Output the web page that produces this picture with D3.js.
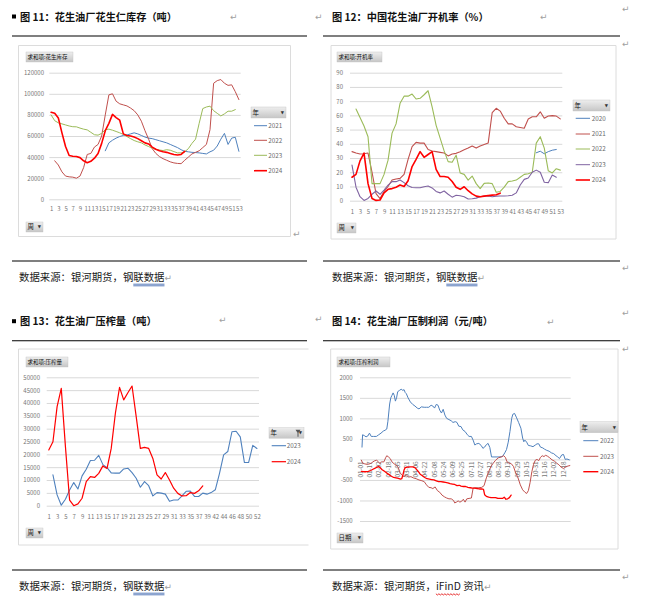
<!DOCTYPE html>
<html><head><meta charset="utf-8">
<script src="https://cdn.jsdelivr.net/npm/d3@7"></script>
<style>
body{margin:0;background:#fff;}
svg{display:block;font-family:"Noto Sans CJK SC","Noto Sans",sans-serif;}
</style></head><body>
<svg id="chart" width="656" height="608"></svg>
<script>
// ---------------- DATA ----------------
// Fig 11: peanut kernel inventory (t), by week
const invWeeks = d3.range(1, 54);
const invWeekLabels = invWeeks.filter(w => w % 2 === 1);
const invYears = ["2021", "2022", "2023", "2024"];
const inv2021 = [null,null,null,null,null,null,null,null,null,null,null,null,null,null,null,46000,53500,56000,58000,59500,60500,61000,62000,63000,62000,60500,59000,58000,57500,56500,55500,54500,53500,52000,50500,49000,47000,45500,45000,44500,44300,44000,43500,43000,45000,46500,50500,57000,62500,52000,58000,58800,45500];
const inv2022 = [null,36500,32500,26000,22000,21300,21000,20000,22000,30000,42500,43500,49500,52000,60000,80000,99000,100000,93000,90500,89500,88500,86500,84000,80000,74000,65000,57000,48000,43500,40500,38500,37000,35500,34500,34000,33800,37000,40000,43000,44500,46000,49000,52000,66000,110000,112500,113500,110000,108000,108500,102000,94500];
const inv2023 = [80000,74500,72500,71500,70500,69500,68800,68700,67500,66500,65800,63500,61200,60800,62500,66000,66500,65500,64300,63000,61500,59500,57500,55700,54500,53500,51500,50000,48500,47300,46700,46200,47000,46500,45200,44000,44000,45000,48000,53000,57000,72000,86000,87500,88300,84000,81500,79000,81000,83500,83500,85000,null];
const inv2024 = [82500,81500,77000,63000,50000,41500,40800,40500,39500,36500,34700,36000,39000,43500,53000,65000,72000,80500,77500,75000,62000,60500,60000,59000,57500,55500,53500,52500,49500,47500,46000,45000,44500,43500,42500,42000,42500,45500,null,null,null,null,null,null,null,null,null,null,null,null,null,null,null];
const invTicks = [0, 20000, 40000, 60000, 80000, 100000, 120000];

// Fig 12: operating rate (%), by week
const rateWeeks = d3.range(1, 54);
const rateWeekLabels = rateWeeks.filter(w => w % 2 === 1);
const rateYears = ["2020", "2021", "2022", "2023", "2024"];
const rate2020 = [null,null,null,null,null,null,null,null,null,null,null,null,null,null,null,null,null,null,null,null,null,null,null,null,null,null,null,null,null,null,null,null,null,null,null,null,null,null,null,null,null,null,null,null,null,null,33.7,34.8,33,34.5,35.5,36,null];
const rate2021 = [34.5,33.5,32.8,33,33.5,20,5,1.5,6.5,10,14.5,15.2,15.7,18.5,29,38,41,40.5,40.5,36,35,34.5,34,33.5,31.5,32.8,33.3,34.5,35.8,37,38.5,37,38.5,39.5,40.5,62,65,63,58,54,54,52,51.5,51,57.5,59,59,62.5,58,59.5,59.8,59.5,57.5];
const rate2022 = [null,64.5,58.5,52.5,45,12,12,12,18.5,28.5,47.5,54,68.5,73.5,73.5,75,71.5,72,74.5,77.3,66,53,44,35,27.5,27,32,19.5,18.5,14.5,17.3,12,8.5,12.2,12.5,12,6,6.5,9.5,13.4,13.8,14.5,16.5,18.5,19,20,40.5,45,37,21,19.5,22.5,21.5];
const rate2023 = [25,9.5,2.8,0.2,1.6,4.5,6.8,4.5,7.5,11,13.4,13.4,14.5,12.7,10.5,9.3,9.1,9.1,9.8,10.3,9,6.5,5.5,6.8,4.5,2.5,3.8,3.5,2.8,1.2,1.4,1.8,2.8,3.2,3.3,2.8,3.2,3.3,3.3,3.5,3.8,5.5,11,15,16,20,21.5,20,13,12.7,18,16.5,null];
const rate2024 = [16.5,18.5,28,33.5,12,1.5,0.2,0.5,5.5,8,8.5,9.5,11,10,14,24,29,34.5,30.5,32.5,34.5,22,17,17,16.5,13.5,9.5,8,9.8,7,4.8,3.2,2.8,3.2,3.6,3.9,4.2,5.3,null,null,null,null,null,null,null,null,null,null,null,null,null,null,null];
const rateTicks = [0, 10, 20, 30, 40, 50, 60, 70, 80, 90];

// Fig 13: crushing volume (t), by week (week 41 absent)
const pressWeeks = [1,2,3,4,5,6,7,8,9,10,11,12,13,14,15,16,17,18,19,20,21,22,23,24,25,26,27,28,29,30,31,32,33,34,35,36,37,38,39,40,42,43,44,45,46,47,48,49,50,51,52];
const pressWeekLabels = [1,3,5,7,9,11,13,15,17,19,21,23,25,27,29,31,33,35,37,39,42,44,46,48,50,52];
const pressYears = ["2023", "2024"];
const press2023 = [null,12000,4200,200,2500,6100,9000,6500,11600,14200,17600,17700,19600,16000,14800,12800,12700,12700,14300,14600,12900,10700,7200,9400,7800,3800,5100,4900,4500,1700,2200,2200,3800,5600,5700,3600,3600,4900,4500,5100,6200,12500,19800,21100,28800,29000,26800,16800,16800,23500,22300];
const press2024 = [21700,24900,38600,45700,23000,2200,0,700,2900,9400,11300,11000,12600,15500,14500,22300,36000,46100,41200,44000,46600,34700,22300,22700,22300,18400,12000,10400,12900,10000,6800,4800,3800,3900,5100,4800,5800,7700,null,null,null,null,null,null,null,null,null,null,null,null,null];
const pressTicks = [0,5000,10000,15000,20000,25000,30000,35000,40000,45000,50000];

// Fig 14: crushing profit (yuan/t), daily, x = day of year
const profitYears = ["2022", "2023", "2024"];
const profitTickLabels = ["01-01","01-17","02-02","02-18","03-05","03-21","04-06","04-22","05-08","05-24","06-09","06-25","07-11","07-27","08-12","08-28","09-13","09-29","10-15","10-31","11-16","12-02","12-18"];
const profitTicks = [-1500,-1000,-500,0,500,1000,1500,2000];
const profit2022Day = [4,5,8,11,14,17,20,24,29,33,37,41,44,47,49,52,54,56,58,60,62,64,66,69,72,75,77,79,81,84,88,92,96,100,103,107,112,116,120,124,127,130,133,136,139,142,145,148,151,155,159,162,166,169,172,176,179,183,187,190,194,197,200,203,207,211,214,217,220,223,226,229,235,242,248,252,255,258,261,264,266,269,272,276,280,283,285,287,290,293,297,301,305,308,311,314,318,321,325,329,333,337,341,344,347,351,354,357,360,364];
const profit2022 = [300,600,580,550,570,640,560,560,560,600,640,690,710,740,930,1350,1500,1560,1620,1560,1420,1500,1650,1680,1710,1680,1700,1630,1600,1500,1400,1340,1300,1250,1230,1280,1270,1270,1270,1320,1300,1250,1340,1320,1200,1130,1220,1080,1000,970,940,900,920,900,810,800,720,680,600,560,560,470,350,380,390,340,270,300,360,390,290,60,60,60,70,160,240,420,680,1000,1100,1120,1030,900,760,520,430,470,420,340,330,310,350,380,380,300,280,250,220,200,160,140,90,60,20,110,120,0,10,-10];
const profit2023Day = [3,5,9,13,17,21,25,29,32,35,38,42,45,47,50,53,56,60,64,67,70,73,77,81,85,89,93,98,103,108,112,116,120,124,127,131,135,139,143,147,151,155,159,163,165,168,171,174,177,180,183,186,190,194,197,202,207,212,216,220,224,228,232,236,241,246,250,253,256,259,263,267,271,275,279,283,287,290,293,296,299,302,305,308,311,314,317,320,323,326,330,334,338,342,346,350,354,358,362,365];
const profit2023 = [-20,-90,-110,-120,-110,-80,-40,-20,-50,-100,-60,-60,40,90,60,20,-60,-110,-150,-200,-320,-380,-420,-380,-430,-420,-450,-470,-500,-520,-540,-620,-680,-690,-710,-670,-760,-800,-870,-910,-940,-960,-960,-1000,-1060,-1040,-1010,-1040,-1020,-970,-1040,-960,-950,-940,-700,-690,-690,-680,-640,-450,-300,-170,-90,-20,40,60,90,50,-60,-90,-100,-170,-330,-450,-620,-740,-800,-830,-760,-560,-300,-120,-20,0,-30,50,90,70,100,80,40,-10,-40,-90,-130,-190,-220,-180,-160,-150];
const profit2024Day = [3,7,11,15,19,23,26,30,33,36,39,43,47,51,55,59,63,67,71,73,75,77,79,83,88,92,96,99,102,105,109,113,117,121,125,129,133,137,141,145,149,153,157,161,165,169,173,176,180,184,188,192,196,200,204,208,212,215,217,220,224,228,232,236,240,244,248,251,254,257,260,263];
const profit2024 = [-290,-300,-300,-290,-270,-240,-220,-190,-170,-210,-250,-290,-330,-370,-410,-440,-450,-460,-480,-470,-380,-260,-200,-190,-180,-180,-200,-250,-300,-360,-400,-440,-470,-480,-490,-500,-520,-540,-540,-550,-560,-570,-590,-600,-610,-640,-630,-650,-660,-660,-680,-690,-700,-700,-710,-720,-720,-730,-860,-900,-920,-930,-930,-930,-950,-950,-950,-920,-970,-960,-930,-870];

// ---------------- DRAWING ----------------
const svg = d3.select("#chart");
const AX = "#767676";
const GRID = "#d9d9d9";
const C = {blue:"#4f81bd", dred:"#c0504d", green:"#9bbb59", purple:"#8064a2", red:"#ff0000"};

const defs = svg.append("defs");
const grad = defs.append("linearGradient").attr("id","btnGrad").attr("x1",0).attr("y1",0).attr("x2",0).attr("y2",1);
grad.append("stop").attr("offset","0%").attr("stop-color","#eeeeee");
grad.append("stop").attr("offset","100%").attr("stop-color","#c6c6c6");

function mark(x, y, size) {
  svg.append("text").attr("x", x).attr("y", y).attr("dy", "0.35em")
    .attr("font-family", "DejaVu Sans").attr("font-size", size || 9).attr("fill", "#a0a0a0").text("↵");
}
function rule(x1, x2, y) {
  svg.append("line").attr("x1", x1).attr("x2", x2).attr("y1", y).attr("y2", y)
    .attr("stroke", "#000").attr("stroke-width", 1.1);
}
function title(x, y, text, square) {
  if (square) svg.append("rect").attr("x", x - 8).attr("y", y - 2.5).attr("width", 4).attr("height", 4).attr("fill", "#000");
  svg.append("text").attr("x", x).attr("y", y).attr("dy", "0.36em").attr("font-size", 10.2)
    .attr("font-weight", "bold").attr("fill", "#111").text(text);
}
function source(x, y, pre, under, post, kind) {
  const t = svg.append("text").attr("x", x).attr("y", y).attr("dy", "0.36em")
    .attr("font-size", 10.4).attr("fill", "#1a1a1a");
  t.append("tspan").text(pre);
  t.append("tspan").text(under);
  if (post) t.append("tspan").text(post);
  t.append("tspan").attr("font-family", "DejaVu Sans").attr("font-size", 9).attr("fill", "#a0a0a0").text("↵");
  const node = t.node();
  const ux = x + node.getSubStringLength(0, pre.length);
  const uw = node.getSubStringLength(pre.length, under.length);
  if (kind === "double") {
    [7.2, 8.8].forEach(o => svg.append("line").attr("x1", ux).attr("x2", ux + uw)
      .attr("y1", y + o).attr("y2", y + o).attr("stroke", "#2f5aa8").attr("stroke-width", 0.8));
  } else {
    const pts = d3.range(0, Math.floor(uw / 1.5) + 1).map(i => [ux + i * 1.5, y + 8 + (i % 2 ? 1 : -0.2)]);
    svg.append("path").attr("d", d3.line()(pts)).attr("fill", "none").attr("stroke", "#e00000").attr("stroke-width", 0.8);
  }
}
function button(x, y, w, h, label, fs, arrow) {
  svg.append("rect").attr("x", x).attr("y", y).attr("width", w).attr("height", h)
    .attr("fill", "url(#btnGrad)").attr("stroke", "#c0c0c0").attr("stroke-width", 0.4);
  svg.append("text").attr("x", x + 1.5).attr("y", y + h / 2).attr("dy", "0.36em")
    .attr("font-size", fs).attr("fill", "#111").text(label);
  if (arrow) svg.append("text").attr("x", x + w - 2).attr("y", y + h / 2).attr("dy", "0.35em")
    .attr("text-anchor", "end").attr("font-family", "DejaVu Sans").attr("font-size", 4.2).attr("fill", "#333").text("▼");
}
function legend(o) {
  button(o.x, o.y, o.w, o.h, "年", 6.4, true);
  if (o.filter) {
    const fx = o.x + o.w - 8.5, fy = o.y + 2;
    svg.append("path").attr("d", `M${fx},${fy}h5l-2,3v4h-1v-4z`).attr("fill", "#555");
  }
  o.labels.forEach((lab, i) => {
    svg.append("line").attr("x1", o.lx1).attr("x2", o.lx2).attr("y1", o.ys[i]).attr("y2", o.ys[i])
      .attr("stroke", o.colors[i]).attr("stroke-width", o.widths[i]);
    svg.append("text").attr("x", o.tx).attr("y", o.ys[i]).attr("dy", "0.35em")
      .attr("font-size", 6.3).attr("fill", "#6a6a6a").text(lab);
  });
}
function frame(x, y, w, h, noRight) {
  svg.append("rect").attr("x", x).attr("y", y).attr("width", w).attr("height", h).attr("fill", "#fff").attr("stroke", "none");
  const p = noRight ? `M${x + w},${y}H${x}V${y + h}H${x + w}` : `M${x},${y}h${w}v${h}h${-w}z`;
  svg.append("path").attr("d", p).attr("fill", "none").attr("stroke", "#dcdcdc").attr("stroke-width", 1);
}
function yAxis(y, ticks, x0, x1, labelX, fs) {
  const g = svg.append("g").attr("transform", `translate(${x0},0)`)
    .call(d3.axisLeft(y).tickValues(ticks).tickSize(-(x1 - x0)).tickPadding(x0 - labelX).tickFormat(d => String(d)));
  g.select(".domain").remove();
  g.selectAll(".tick line").attr("stroke", GRID).attr("stroke-width", 1);
  g.selectAll(".tick text").attr("font-size", fs).attr("fill", AX);
  g.attr("font-family", null);
  return g;
}
function xCatAxis(x, labels, y0, labelY, fs) {
  const g = svg.append("g").attr("transform", `translate(0,${y0})`)
    .call(d3.axisBottom(x).tickValues(labels).tickSize(0).tickPadding(labelY - y0 - 0.36 * fs));
  g.select(".domain").remove();
  g.selectAll(".tick text").attr("font-size", fs).attr("fill", AX);
  g.attr("font-family", null);
}
function series(x, y, values, cats, color, width) {
  const pts = cats.map((c, i) => [c, values[i]]);
  svg.append("path").datum(pts)
    .attr("d", d3.line().defined(d => d[1] != null).x(d => x(d[0])).y(d => y(d[1])))
    .attr("fill", "none").attr("stroke", color).attr("stroke-width", width)
    .attr("stroke-linejoin", "round").attr("stroke-linecap", "round");
}

// ===== Panel 11 =====
title(20, 17, "图 11：花生油厂花生仁库存（吨）", true);
mark(230, 17); mark(315, 17);
rule(12, 307, 36);
frame(18.5, 45.5, 272, 191);
button(26, 52, 47, 10, "求和项:花生库存", 5.5, false);
{
  const y = d3.scaleLinear().domain([0, 120000]).range([199.3, 72.7]);
  const x = d3.scalePoint().domain(invWeeks).range([49.3, 240.7]).padding(0.5);
  yAxis(y, invTicks, 49.3, 240.7, 44, 6);
  xCatAxis(x, invWeekLabels, 199.3, 209.3, 6);
  series(x, y, inv2021, invWeeks, C.blue, 1);
  series(x, y, inv2022, invWeeks, C.dred, 1);
  series(x, y, inv2023, invWeeks, C.green, 1);
  series(x, y, inv2024, invWeeks, C.red, 1.6);
}
legend({x: 251, y: 107, w: 35, h: 11, labels: invYears, colors: [C.blue, C.dred, C.green, C.red],
  widths: [1, 1, 1, 1.6], ys: [125.7, 140.3, 155.3, 170.7], lx1: 254, lx2: 267, tx: 268.3});
button(26, 222, 17, 10, "周", 6.4, true);
mark(293, 233.5);
rule(12, 307, 261);
source(19, 277, "数据来源：银河期货，钢", "联数据", "", "double");

// ===== Panel 12 =====
title(332, 17, "图 12：中国花生油厂开机率（%）", false);
mark(540, 17); mark(622, 9); mark(622, 44);
rule(323, 620, 36);
frame(331, 45.5, 285, 193.5);
button(337, 52, 45, 10, "求和项:开机率", 5.5, false);
{
  const y = d3.scaleLinear().domain([0, 90]).range([200.7, 72.7]);
  const x = d3.scalePoint().domain(rateWeeks).range([350, 562.3]).padding(0.5);
  yAxis(y, rateTicks, 350, 562.3, 343, 6);
  xCatAxis(x, rateWeekLabels, 200.7, 212, 6);
  series(x, y, rate2020, rateWeeks, C.blue, 1);
  series(x, y, rate2021, rateWeeks, C.dred, 1.1);
  series(x, y, rate2022, rateWeeks, C.green, 1.1);
  series(x, y, rate2023, rateWeeks, C.purple, 1.1);
  series(x, y, rate2024, rateWeeks, C.red, 1.6);
}
legend({x: 573, y: 100, w: 37, h: 11, labels: rateYears, colors: [C.blue, C.dred, C.green, C.purple, C.red],
  widths: [1, 1, 1, 1, 1.6], ys: [118.3, 134, 149, 164.7, 180], lx1: 575.7, lx2: 590, tx: 591.7});
button(337, 223, 19, 10, "周", 6.4, true);
rule(323, 620, 261);
mark(622, 268);
source(332, 277, "数据来源：银河期货，钢", "联数据", "", "double");

// ===== Panel 13 =====
title(20, 321.7, "图 13：花生油厂压榨量（吨）", true);
mark(219, 320); mark(315, 319);
rule(12, 307, 340.7);
frame(18.5, 349, 290, 196, true);
button(26, 357, 42, 10, "求和项:压榨量", 5.5, false);
{
  const y = d3.scaleLinear().domain([0, 50000]).range([505.7, 377.3]);
  const x = d3.scalePoint().domain(pressWeeks).range([46.7, 259]).padding(0.5);
  yAxis(y, pressTicks, 46.7, 259, 40, 6);
  xCatAxis(x, pressWeekLabels, 505.7, 516.7, 6);
  series(x, y, press2023, pressWeeks, C.blue, 1.1);
  series(x, y, press2024, pressWeeks, C.red, 1.2);
}
legend({x: 269, y: 427.7, w: 35, h: 10.5, filter: true, labels: pressYears, colors: [C.blue, C.red],
  widths: [1.1, 1.2], ys: [445.7, 461.7], lx1: 271.7, lx2: 286, tx: 286.7});
button(26, 528, 17, 10, "周", 6.4, true);
rule(12, 307, 570);
source(19, 586, "数据来源：银河期货，钢", "联数据", "", "double");

// ===== Panel 14 =====
title(332, 321.7, "图 14：花生油厂压制利润（元/吨）", false);
mark(547, 321.7); mark(622, 313); mark(622, 349);
rule(323, 620, 340.7);
frame(330.7, 349, 287.3, 200);
button(337, 357, 53, 10, "求和项:压榨利润", 5.5, false);
{
  const y = d3.scaleLinear().domain([-1500, 2000]).range([521, 377.3]);
  const x = d3.scaleLinear().domain([0.5, 366.5]).range([360, 570.7]);
  yAxis(y, profitTicks, 360, 570.7, 352.7, 6);
  const parseMD = d3.timeParse("%Y-%m-%d");
  const tickDays = profitTickLabels.map(s => d3.timeDay.count(parseMD("2024-01-01"), parseMD("2024-" + s)) + 1);
  const g = svg.append("g").attr("transform", `translate(0,${y(0)})`)
    .call(d3.axisBottom(x).tickValues(tickDays).tickSize(0).tickFormat((d, i) => profitTickLabels[i]));
  g.select(".domain").remove();
  g.attr("font-family", null);
  g.selectAll(".tick text").attr("font-size", 6.3).attr("fill", AX)
    .attr("x", -2).attr("y", 0).attr("dy", "0.35em").attr("text-anchor", "end").attr("transform", "rotate(-90)");
  series(x, y, profit2022, profit2022Day, C.blue, 1);
  series(x, y, profit2023, profit2023Day, C.dred, 1);
  series(x, y, profit2024, profit2024Day, C.red, 1.3);
}
legend({x: 580, y: 421.7, w: 38, h: 11, labels: profitYears, colors: [C.blue, C.dred, C.red],
  widths: [1, 1, 1.4], ys: [440.7, 456.3, 471.7], lx1: 583.3, lx2: 598.3, tx: 600});
button(337, 533, 26, 10, "日期", 6.4, true);
rule(323, 620, 570);
mark(622, 577);
source(332, 586, "数据来源：银河期货，", "iFinD", " 资讯", "wave");
</script>
</body></html>
